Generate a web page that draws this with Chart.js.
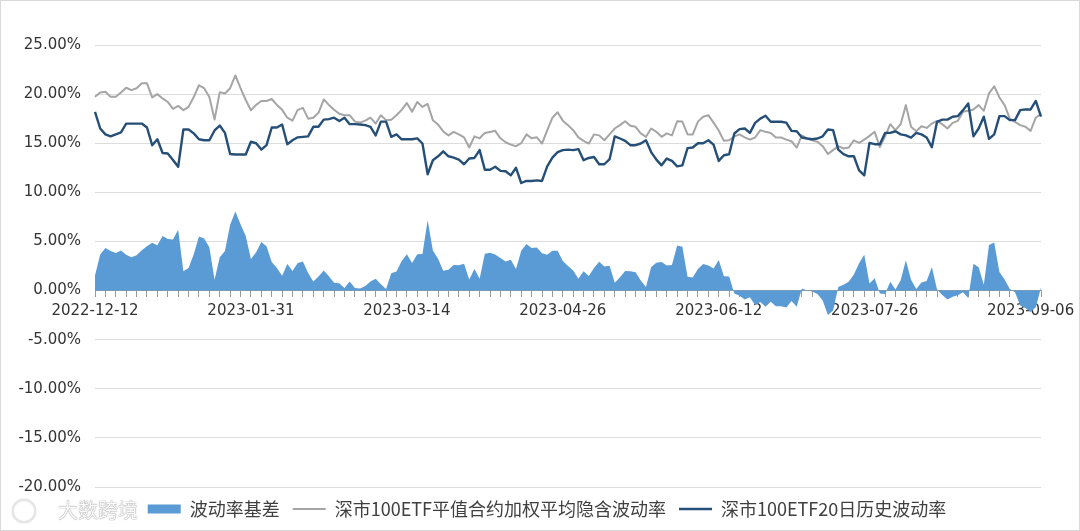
<!DOCTYPE html>
<html>
<head>
<meta charset="utf-8">
<script src="https://cdn.jsdelivr.net/npm/chart.js@4.4.0/dist/chart.umd.min.js"></script>
<style>
html,body{margin:0;padding:0;background:#fff;}
#wrap{position:relative;width:1080px;height:531px;overflow:hidden;}
#frame{position:absolute;left:0;top:0;width:1080px;height:531px;box-sizing:border-box;border:1px solid #d9d9d9;pointer-events:none;}
#wm{position:absolute;left:58px;top:497px;font-size:20px;line-height:26px;font-family:"Noto Sans CJK SC";color:#fbfbfb;text-shadow:0 0 1px #8f8f8f,0 0 1px #8f8f8f;}
#logo{position:absolute;left:12px;top:499px;width:20px;height:20px;border-radius:50%;border:2px solid #e6e6e6;box-shadow:0 0 1px #999;}
</style>
</head>
<body>
<div id="wrap">
<canvas id="c" width="1080" height="531"></canvas>
<div id="logo"></div>
<div id="wm">大数跨境</div>
<div id="frame"></div>
</div>
<script>
// 深市100ETF平值合约加权平均隐含波动率 (%)
const implied = [
19.73,20.17,20.24,19.73,19.73,20.17,20.65,20.4,20.6,21.1,
21.1,19.66,20.0,19.56,19.2,18.5,18.8,18.37,18.7,19.7,
20.9,20.6,19.7,17.4,20.2,20.07,20.6,21.9,20.6,19.4,
18.35,18.9,19.3,19.3,19.5,18.9,18.4,17.6,17.3,18.4,
18.6,17.5,17.6,18.1,19.45,18.9,18.4,18.0,17.85,17.85,
17.2,17.1,17.3,17.6,17.0,17.85,17.35,17.4,17.85,18.4,
19.1,18.2,19.2,18.7,19.0,17.35,16.9,16.2,15.8,16.15,
15.9,15.6,14.56,15.7,15.5,16.05,16.15,16.26,15.5,15.1,
14.86,14.7,15.0,15.9,15.5,15.6,14.97,16.3,17.6,18.15,
17.3,16.84,16.33,15.6,15.24,14.97,15.9,15.8,15.3,15.9,
16.5,16.84,17.24,16.77,16.67,16.0,15.65,16.5,16.16,15.65,
16.0,15.8,17.24,17.2,15.9,15.9,17.2,17.7,17.86,17.1,
16.3,15.24,15.3,15.7,15.9,15.6,15.37,15.58,16.33,16.16,
16.05,15.58,15.58,15.37,15.2,14.56,15.8,15.48,15.3,15.14,
14.7,13.9,14.3,14.7,14.46,14.56,15.3,15.03,15.37,15.75,
16.16,14.6,15.7,16.94,16.33,16.94,18.88,16.67,16.22,16.73,
16.56,17.0,17.28,16.94,16.5,17.07,17.28,18.2,18.3,18.44,
18.88,18.3,20.07,20.8,19.66,18.88,17.5,17.18,16.84,16.67,
16.26,17.6,18.0
];

// 深市100ETF20日历史波动率 (%)
const historical = [
18.2,16.5,15.9,15.7,15.9,16.1,17.0,17.0,17.0,17.0,
16.6,14.8,15.4,14.0,13.95,13.3,12.6,16.4,16.4,16.0,
15.4,15.3,15.3,16.3,16.8,16.05,13.9,13.85,13.85,13.85,
15.15,15.0,14.35,14.8,16.6,16.6,16.9,14.9,15.3,15.6,
15.65,15.7,16.67,16.67,17.4,17.45,17.6,17.25,17.6,16.94,
16.94,16.9,16.84,16.67,15.8,17.2,17.2,15.65,15.9,15.4,
15.4,15.4,15.5,14.97,11.84,13.27,13.67,14.18,13.67,13.54,
13.33,12.86,13.44,13.5,14.3,12.3,12.3,12.6,12.18,12.14,
11.73,12.5,10.95,11.16,11.16,11.22,11.16,12.65,13.54,14.1,
14.3,14.35,14.3,14.4,13.27,13.5,13.6,12.86,12.86,13.37,
15.7,15.48,15.24,14.8,14.8,14.97,15.3,14.1,13.33,12.75,
13.44,13.2,12.65,12.75,14.5,14.56,15.0,15.0,15.3,14.85,
13.2,13.78,13.88,15.99,16.43,16.5,16.05,17.07,17.5,17.8,
17.18,17.18,17.18,17.1,16.26,16.22,15.58,15.48,15.4,15.48,
15.7,16.4,16.33,14.35,13.88,13.67,13.67,12.24,11.73,15.03,
14.9,14.9,16.05,16.05,16.22,15.9,15.8,15.58,16.05,15.9,
15.58,14.6,17.18,17.4,17.4,17.7,17.76,18.37,19.05,15.7,
16.5,17.7,15.44,15.9,17.76,17.76,17.35,17.35,18.37,18.44,
18.44,19.3,17.7
];

// 波动率基差 (%)
const basis = [
1.53,3.67,4.34,4.03,3.83,4.07,3.65,3.4,3.6,4.1,
4.5,4.86,4.6,5.56,5.25,5.2,6.2,1.97,2.3,3.7,
5.5,5.3,4.4,1.1,3.4,4.02,6.7,8.05,6.75,5.55,
3.2,3.9,4.95,4.5,2.9,2.3,1.5,2.7,2.0,2.8,
2.95,1.8,0.93,1.43,2.05,1.45,0.8,0.75,0.25,0.91,
0.26,0.2,0.46,0.93,1.2,0.65,0.15,1.75,1.95,3.0,
3.7,2.8,3.7,3.73,7.16,4.08,3.23,2.02,2.13,2.61,
2.57,2.74,1.12,2.2,1.2,3.75,3.85,3.66,3.32,2.96,
3.13,2.2,4.05,4.74,4.34,4.38,3.81,3.65,4.06,4.05,
3.0,2.49,2.03,1.2,1.97,1.47,2.3,2.94,2.44,2.53,
0.8,1.36,2.0,1.97,1.87,1.03,0.35,2.4,2.83,2.9,
2.56,2.6,4.59,4.45,1.4,1.34,2.2,2.7,2.56,2.25,
3.1,1.46,1.42,-0.29,-0.53,-0.9,-0.68,-1.49,-1.17,-1.64,
-1.13,-1.6,-1.6,-1.73,-1.06,-1.66,0.22,0,-0.1,-0.34,
-1.0,-2.5,-2.03,0.35,0.58,0.89,1.63,2.79,3.64,0.72,
1.26,-0.3,-0.35,0.89,0.11,1.04,3.08,1.09,0.17,0.83,
0.98,2.4,0.1,-0.46,-0.9,-0.63,-0.48,-0.17,-0.75,2.74,
2.38,0.6,4.63,4.9,1.9,1.12,0.15,-0.17,-1.53,-1.77,
-2.18,-1.7,0.3
];

// x-axis date labels, one every 30 trading days
const tickLabels = ['2022-12-12','2023-01-31','2023-03-14','2023-04-26','2023-06-12','2023-07-26','2023-09-06'];
const labelStep = 30;
const tickStep = 2;
const categories = implied.map((_, i) => String(i));

const yTicks = { min: -20, max: 25, step: 5 };

const seriesNames = ['波动率基差', '深市100ETF平值合约加权平均隐含波动率', '深市100ETF20日历史波动率'];

const tickFont = { family: 'DejaVu Sans', size: 15 };

// shift the bottom legend so it sits where the reference legend sits
const legendShift = {
  id: 'legendShift',
  afterLayout(chart) {
    const lg = chart.legend;
    if (lg) { lg.left += 26.5; lg.right += 26.5; }
  }
};

new Chart(document.getElementById('c'), {
  type: 'line',
  data: {
    labels: categories,
    datasets: [
      {
        label: seriesNames[0],
        data: basis,
        fill: 'origin',
        backgroundColor: '#5b9bd5',
        borderColor: '#5b9bd5',
        borderWidth: 0,
        pointRadius: 0,
        pointStyle: 'rect',
        pointBackgroundColor: '#5b9bd5',
        pointBorderWidth: 0,
        tension: 0,
        order: 2
      },
      {
        label: seriesNames[1],
        data: implied,
        fill: false,
        borderColor: '#a5a5a5',
        backgroundColor: '#a5a5a5',
        borderWidth: 2,
        pointRadius: 0,
        pointStyle: 'line',
        pointBorderColor: '#a5a5a5',
        pointBackgroundColor: '#a5a5a5',
        pointBorderWidth: 2,
        borderJoinStyle: 'round',
        tension: 0,
        order: 1
      },
      {
        label: seriesNames[2],
        data: historical,
        fill: false,
        borderColor: '#264f78',
        backgroundColor: '#264f78',
        borderWidth: 2.4,
        pointRadius: 0,
        pointStyle: 'line',
        pointBorderColor: '#264f78',
        pointBackgroundColor: '#264f78',
        pointBorderWidth: 2.4,
        borderJoinStyle: 'round',
        tension: 0,
        order: 0
      }
    ]
  },
  plugins: [legendShift],
  options: {
    responsive: false,
    animation: false,
    devicePixelRatio: 1,
    layout: { padding: { left: 0, right: 39, top: 45, bottom: 3 } },
    plugins: {
      tooltip: { enabled: false },
      legend: {
        position: 'bottom',
        align: 'center',
        labels: {
          usePointStyle: true,
          pointStyleWidth: 33,
          boxHeight: 9,
          padding: 13,
          color: '#404040',
          font: { family: '"Noto Sans CJK SC"', size: 18 },
          sort: (a, b) => a.datasetIndex - b.datasetIndex
        }
      }
    },
    scales: {
      x: {
        type: 'category',
        position: { y: 0 },
        offset: false,
        z: 1,
        afterBuildTicks: axis => { axis.ticks = axis.ticks.filter(t => t.value % tickStep === 0); },
        ticks: {
          autoSkip: false,
          maxRotation: 0,
          minRotation: 0,
          padding: 6,
          color: '#333333',
          font: tickFont,
          callback: v => (v % labelStep === 0 ? tickLabels[v / labelStep] : '')
        },
        grid: { drawOnChartArea: false, drawTicks: true, tickLength: 6, color: '#9a9a9a', lineWidth: 1 },
        border: { display: true, color: '#9a9a9a', width: 1 }
      },
      y: {
        position: 'left',
        min: yTicks.min,
        max: yTicks.max,
        afterFit: axis => { axis.width = 95; },
        ticks: {
          stepSize: yTicks.step,
          padding: 14,
          color: '#333333',
          font: tickFont,
          callback: v => v.toFixed(2) + '%'
        },
        grid: { color: '#dcdcdc', lineWidth: 1, drawTicks: false },
        border: { display: false }
      }
    }
  }
});
</script>
</body>
</html>
